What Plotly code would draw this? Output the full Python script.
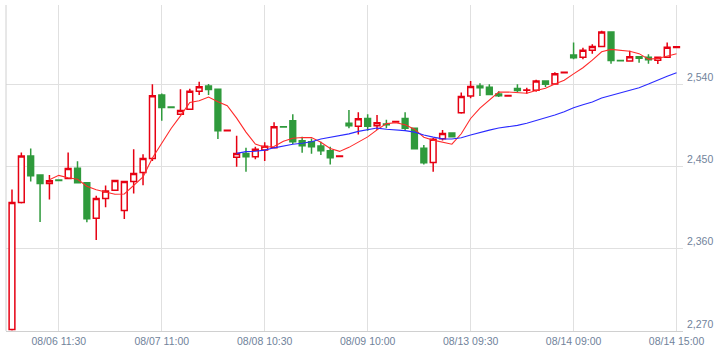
import plotly.graph_objects as go

# ---- data (30-minute bars) ----
opens = [2271.7, 2410.6, 2461.3, 2440.5, 2431.4, 2435.0, 2436.9, 2448.1, 2432.2, 2393.2,
         2415.0, 2423.8, 2401.9, 2433.6, 2443.4, 2458.7, 2528.0, 2515.0, 2506.9, 2512.4,
         2532.3, 2537.8, 2534.5, 2489.0, 2459.9, 2464.2, 2460.6, 2467.8, 2470.3, 2493.4,
         2499.9, 2478.1, 2477.0, 2472.2, 2467.2, 2460.8, 2497.3, 2493.8, 2502.5, 2494.5,
         2496.4, 2498.5, 2502.5, 2491.6, 2469.8, 2454.4, 2480.3, 2486.4, 2508.8, 2526.9,
         2537.8, 2536.5, 2529.1, 2527.0, 2535.3, 2533.3, 2533.4, 2543.3, 2540.0, 2552.5,
         2571.7, 2569.3, 2576.9, 2581.2, 2596.9, 2565.8, 2565.2, 2570.0, 2569.3, 2566.2,
         2569.3, 2580.0]
highs = [2424.8, 2465.3, 2469.7, 2441.0, 2440.5, 2435.2, 2465.3, 2455.5, 2432.5, 2417.9,
         2429.2, 2435.0, 2434.0, 2468.7, 2463.2, 2539.7, 2529.8, 2515.2, 2534.5, 2535.0,
         2542.5, 2540.0, 2535.0, 2489.7, 2483.5, 2470.3, 2471.5, 2476.3, 2498.2, 2493.6,
         2506.9, 2482.4, 2480.6, 2477.0, 2471.5, 2461.5, 2511.6, 2509.1, 2506.9, 2506.1,
         2501.0, 2499.5, 2509.1, 2492.0, 2473.3, 2481.0, 2489.7, 2487.0, 2530.9, 2543.3,
         2540.8, 2539.7, 2532.3, 2527.7, 2539.7, 2536.0, 2544.8, 2543.5, 2552.9, 2553.1,
         2585.6, 2579.8, 2583.7, 2598.4, 2597.0, 2566.0, 2576.5, 2570.5, 2572.6, 2570.0,
         2585.6, 2581.0]
lows = [2270.5, 2409.5, 2433.6, 2389.1, 2413.9, 2434.0, 2436.0, 2432.0, 2388.8, 2369.4,
        2405.2, 2423.5, 2392.4, 2420.5, 2429.5, 2455.8, 2499.9, 2514.0, 2506.5, 2512.0,
        2528.0, 2528.0, 2479.9, 2488.8, 2449.6, 2444.1, 2457.8, 2455.8, 2470.0, 2492.8,
        2474.4, 2465.0, 2463.9, 2462.4, 2452.2, 2460.6, 2491.6, 2485.0, 2489.0, 2489.7,
        2491.6, 2498.0, 2489.0, 2469.0, 2452.2, 2444.1, 2478.4, 2482.0, 2507.6, 2524.4,
        2526.9, 2528.0, 2526.0, 2526.8, 2530.9, 2529.5, 2531.7, 2536.7, 2539.8, 2552.3,
        2567.1, 2567.3, 2573.2, 2581.0, 2562.2, 2565.2, 2565.0, 2563.4, 2562.2, 2561.9,
        2569.0, 2579.8]
closes = [2410.6, 2461.3, 2439.7, 2431.4, 2434.3, 2434.5, 2447.8, 2432.2, 2392.7, 2415.0,
          2423.0, 2434.7, 2433.6, 2442.3, 2458.7, 2527.2, 2514.5, 2514.3, 2511.2, 2532.1,
          2537.0, 2534.2, 2488.9, 2489.5, 2464.2, 2460.6, 2468.7, 2472.0, 2493.4, 2493.0,
          2477.0, 2472.6, 2471.5, 2467.2, 2459.5, 2461.3, 2494.5, 2502.2, 2493.8, 2497.8,
          2495.6, 2499.0, 2491.6, 2469.3, 2454.0, 2479.6, 2486.1, 2482.4, 2526.5, 2537.5,
          2536.1, 2528.7, 2527.3, 2527.5, 2533.1, 2533.6, 2543.3, 2539.7, 2551.3, 2552.9,
          2568.9, 2576.9, 2581.2, 2596.9, 2565.9, 2565.4, 2570.0, 2568.4, 2566.7, 2569.3,
          2580.2, 2580.8]

ma_short = [None, None, None, None, 2435.5, 2440.2, 2437.5, 2436.0, 2428.3, 2424.4,
            2422.1, 2419.5, 2419.8, 2429.7, 2438.5, 2459.3, 2475.3, 2491.4, 2505.2, 2519.9,
            2521.8, 2525.8, 2520.7, 2516.3, 2502.8, 2487.5, 2474.4, 2471.0, 2471.8, 2477.5,
            2480.8, 2481.6, 2481.5, 2476.3, 2469.6, 2466.4, 2470.8, 2476.9, 2482.3, 2489.9,
            2496.8, 2497.7, 2495.6, 2490.7, 2481.9, 2478.7, 2476.1, 2474.3, 2485.7, 2502.4,
            2513.7, 2522.2, 2531.2, 2531.4, 2530.5, 2530.0, 2533.0, 2535.4, 2540.2, 2544.2,
            2551.2, 2557.9, 2566.2, 2575.4, 2578.0, 2577.3, 2575.9, 2573.3, 2567.3, 2568.0,
            2570.9, 2573.1]
ma_long = [None] * 24 + [
            2464.2, 2466.2, 2466.5, 2467.8, 2470.3, 2472.6,
            2474.3, 2475.3, 2476.9, 2479.9, 2481.6, 2483.2, 2485.6, 2488.3, 2490.4, 2491.9,
            2490.7, 2490.0, 2489.1, 2487.5, 2484.3, 2482.0, 2480.1, 2479.9, 2481.3, 2484.3,
            2487.3, 2489.7, 2491.9, 2493.3, 2494.9, 2497.1, 2500.0, 2502.7, 2506.1, 2509.8,
            2514.1, 2517.4, 2520.5, 2524.7, 2527.4, 2530.2, 2533.0, 2536.1, 2540.0, 2544.6,
            2548.6, 2552.4]

tick_bars = [5, 16, 27, 38, 49, 60, 71]
tick_labels = ["08/06 11:30", "08/07 11:00", "08/08 10:30", "08/09 10:00",
               "08/13 09:30", "08/14 09:00", "08/14 15:00"]
price_ticks = [2270, 2360, 2450, 2540]

bars = list(range(len(closes)))

RED = "#e60012"
GREEN = "#2f9a3c"

fig = go.Figure()
fig.add_trace(go.Candlestick(
    x=bars, open=opens, high=highs, low=lows, close=closes,
    increasing=dict(line=dict(color=RED, width=1.5), fillcolor="#ffffff"),
    decreasing=dict(line=dict(color=GREEN, width=1.5), fillcolor=GREEN),
    whiskerwidth=0, showlegend=False, hoverinfo="skip"))
fig.add_trace(go.Scatter(x=bars, y=ma_short, mode="lines",
                         line=dict(color="#ff2a2a", width=1.1),
                         showlegend=False, hoverinfo="skip"))
fig.add_trace(go.Scatter(x=bars, y=ma_long, mode="lines",
                         line=dict(color="#2b2bff", width=1.1),
                         showlegend=False, hoverinfo="skip"))

tick_font = dict(family="Liberation Sans, Arial, sans-serif", size=10.5, color="#71839b")

fig.update_layout(
    width=726, height=355,
    margin=dict(l=6, r=43, t=5, b=24),
    paper_bgcolor="#ffffff", plot_bgcolor="#ffffff",
    boxgap=0.12,
    xaxis=dict(
        range=[-0.64, 71.69], rangeslider=dict(visible=False),
        tickmode="array", tickvals=tick_bars, ticktext=tick_labels,
        showgrid=True, gridcolor="#e0e0e0", gridwidth=1,
        showline=True, linecolor="#d0d0d0", linewidth=1,
        ticks="", zeroline=False, tickfont=tick_font),
    yaxis=dict(
        range=[2270, 2626.5], side="right",
        tickmode="array", tickvals=price_ticks, tickformat=",",
        showgrid=True, gridcolor="#e0e0e0", gridwidth=1,
        showline=False, ticks="", zeroline=False,
        ticklabelshift=-7, ticklabelstandoff=3, tickfont=tick_font),
    shapes=[dict(type="line", xref="paper", yref="paper", x0=0, x1=0, y0=0, y1=1,
                 line=dict(color="#d0d0d0", width=1))],
)

fig.write_html("out.html", config={"displayModeBar": False},
               post_script="document.body.style.margin='0';document.body.style.padding='0';")
